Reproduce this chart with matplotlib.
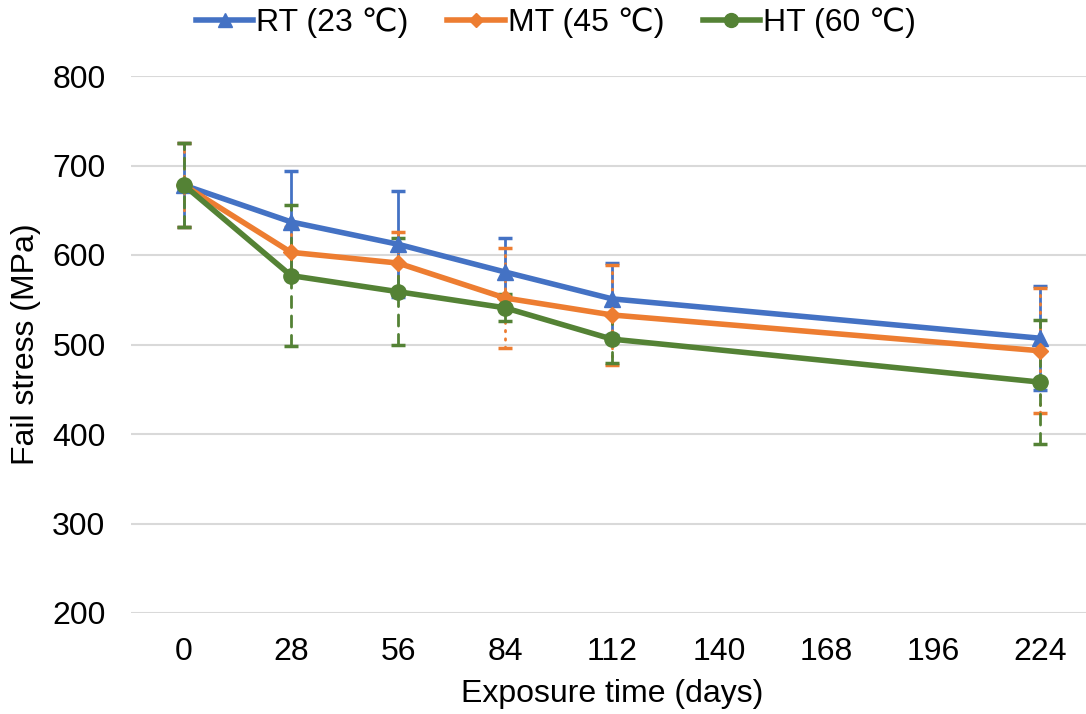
import matplotlib.pyplot as plt
from matplotlib.lines import Line2D

plt.rcParams['font.family'] = ['Liberation Sans', 'DejaVu Sans']

# exposure time (days)
days = [0, 28, 56, 84, 112, 224]
tick_days = [0, 28, 56, 84, 112, 140, 168, 196, 224]

# fail stress (MPa) and error bars
rt_mean = [678, 637, 612, 581, 551, 507]
rt_err = [47, 57, 59, 38, 40, 58]
mt_mean = [678, 603, 591, 552, 533, 493]
mt_err = [47, 28, 35, 56, 56, 70]
ht_mean = [678, 577, 559, 541, 506, 458]
ht_err = [47, 79, 60, 15, 27, 69]

series = [
    ('RT (23 \u2103)', rt_mean, rt_err, '#4472C4', '^', 11, '-'),
    ('MT (45 \u2103)', mt_mean, mt_err, '#ED7D31', 'D', 8, (0, (0.5, 2.5))),
    ('HT (60 \u2103)', ht_mean, ht_err, '#548235', 'o', 11, (0, (4, 3))),
]

fig = plt.figure(figsize=(10.86, 7.14), dpi=100)
ax = fig.add_axes([130.5 / 1086, 101 / 714, 963 / 1086, 537 / 714])

handles = []
for label, mean, err, color, marker, ms, els in series:
    line, caps, bars = ax.errorbar(days, mean, yerr=err, color=color, lw=4,
                                   marker=marker, ms=ms, capsize=5, capthick=2.5,
                                   elinewidth=2, label=label)
    bars[0].set_linestyle(els)
    bars[0].set_capstyle('round')
    handles.append(Line2D([], [], color=color, lw=4, marker=marker, ms=ms - 1,
                          label=label))

ax.set_xlim(-14, 238)
ax.set_ylim(200, 800)
ax.set_xticks(tick_days)
ax.set_yticks(range(200, 801, 100))
ax.tick_params(axis='both', length=0, labelsize=23)
ax.tick_params(axis='x', pad=17)
ax.tick_params(axis='y', pad=18)
ax.grid(axis='y', color='#D9D9D9', lw=1.5)
ax.set_axisbelow(True)
for s in ax.spines.values():
    s.set_visible(False)

ax.set_xlabel('Exposure time (days)', fontsize=23, labelpad=9)
ax.set_ylabel('Fail stress (MPa)', fontsize=23, labelpad=8)

fig.legend(handles=handles, loc='upper center', bbox_to_anchor=(0.512, 1.03),
           ncol=3, frameon=False, fontsize=23, handlelength=1.8,
           columnspacing=1.2, handletextpad=0.1)

fig.savefig('out.png', dpi=100)
